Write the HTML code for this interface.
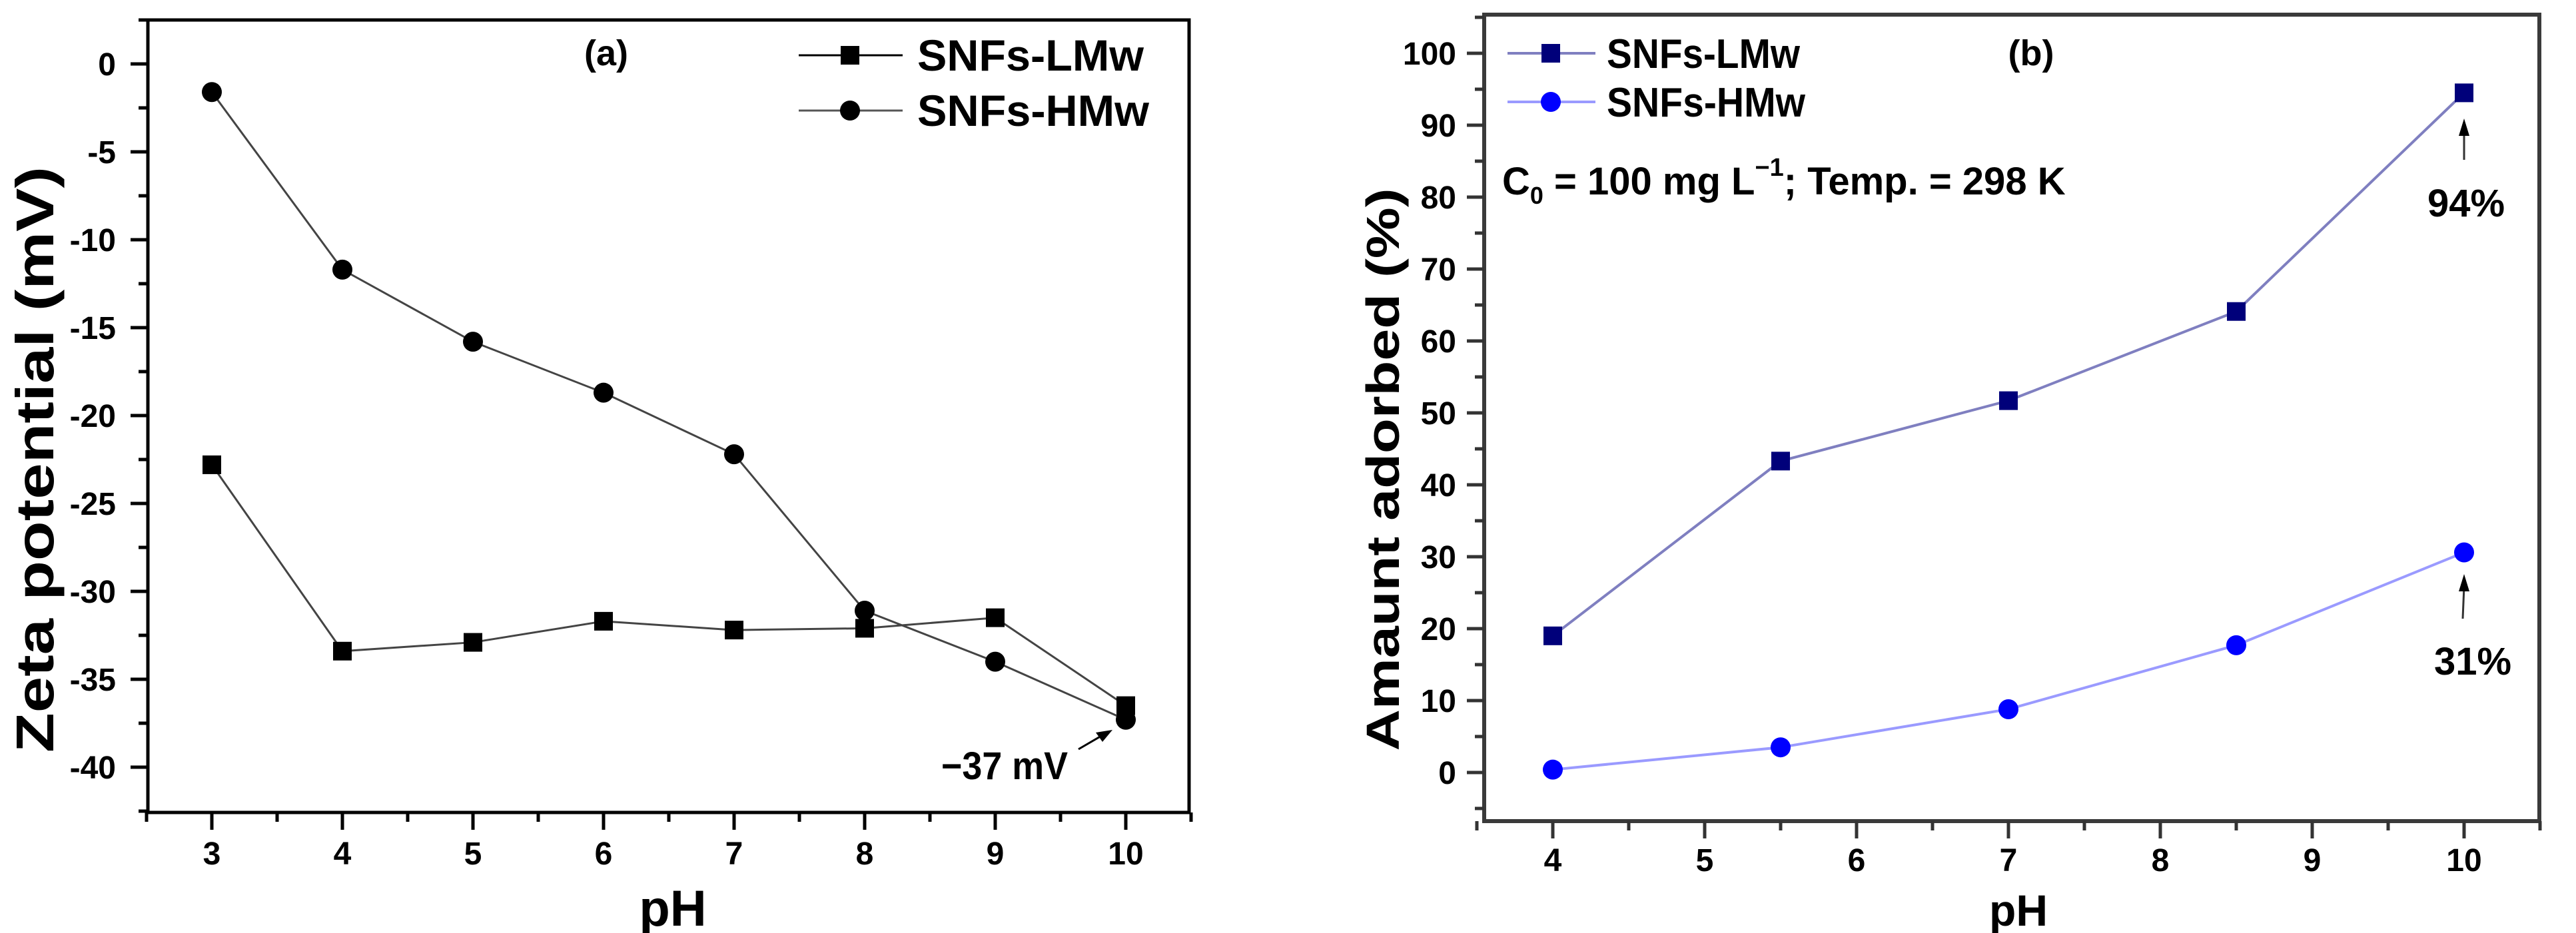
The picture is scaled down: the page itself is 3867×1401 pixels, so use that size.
<!DOCTYPE html>
<html><head><meta charset="utf-8"><style>
html,body{margin:0;padding:0;background:#fff;}
svg{display:block;font-family:"Liberation Sans",Arial,sans-serif;font-weight:bold;}
</style></head><body>
<svg id="fig" width="3867" height="1401" viewBox="0 0 3867 1401">
<g id="pa"></g>
<g id="pb"></g>
</svg>
<script>
// Panel (a) data
const phA = [3, 4, 5, 6, 7, 8, 9, 10];
const zetaLMw = [-22.8, -33.4, -32.9, -31.7, -32.2, -32.1, -31.5, -36.5];
const zetaHMw = [-1.6, -11.7, -15.8, -18.7, -22.2, -31.1, -34.0, -37.3];
const xTicksA = [3, 4, 5, 6, 7, 8, 9, 10];
const yTicksA = [0, -5, -10, -15, -20, -25, -30, -35, -40];
// Panel (b) data
const phB = [4, 5.5, 7, 8.5, 10];
const adsLMw = [19.0, 43.3, 51.7, 64.1, 94.5];
const adsHMw = [0.4, 3.5, 8.8, 17.7, 30.6];
const xTicksB = [4, 5, 6, 7, 8, 9, 10];
const yTicksB = [0, 10, 20, 30, 40, 50, 60, 70, 80, 90, 100];

const NS = "http://www.w3.org/2000/svg";
function mk(parent, tag, attrs, text){
  const e = document.createElementNS(NS, tag);
  for (const k in attrs) e.setAttribute(k, attrs[k]);
  if (text !== undefined) e.textContent = text;
  parent.appendChild(e);
  return e;
}
function scale(d0, d1, r0, r1){ return v => r0 + (v - d0) * (r1 - r0) / (d1 - d0); }

// ---------- Panel A ----------
const ga = document.getElementById('pa');
const xA = scale(3, 10, 318, 1690);
const yA = scale(0, -40, 96, 1152);
const A = {l:222, r:1785, t:30, b:1220};
let e;
e = mk(ga, 'rect', {x:A.l, y:A.t, width:A.r-A.l, height:A.b-A.t, fill:'none', stroke:'#000', 'stroke-width':5});


for (let v = 2.5; v <= 10.5; v += 0.5) {
  const x = xA(v), major = Number.isInteger(v);
  e = mk(ga, 'line', {x1:x, x2:x, y1:A.b, y2:A.b + (major ? 26 : 14), stroke:'#000', 'stroke-width':5});
  
  
}
xTicksA.forEach(v => {
  e = mk(ga, 'text', {x:xA(v), y:1298, 'font-size':48, 'text-anchor':'middle'}, String(v));
  
  
});
for (let v = 2.5; v >= -42.5; v -= 2.5) {
  const y = yA(v), major = (v % 5 === 0);
  e = mk(ga, 'line', {x1:A.l - (major ? 26 : 14), x2:A.l, y1:y, y2:y, stroke:'#000', 'stroke-width':5});
  
  
}
yTicksA.forEach(v => {
  e = mk(ga, 'text', {x:174, y:yA(v) + 17, 'font-size':48, 'text-anchor':'end'}, String(v));
  
  
});
e = mk(ga, 'text', {x:1010, y:1390, 'font-size':76, 'text-anchor':'middle'}, 'pH');


e = mk(ga, 'text', {x:0, y:0, 'font-size':80, 'text-anchor':'middle', textLength:880, lengthAdjust:'spacingAndGlyphs', transform:'translate(80,690) rotate(-90)'}, 'Zeta potential (mV)');


e = mk(ga, 'text', {x:910, y:98, 'font-size':54, 'text-anchor':'middle'}, '(a)');



function seriesA(vals, marker, name){
  const g = mk(ga, 'g', {});
  
  
  const pts = phA.map((p, i) => xA(p) + ',' + yA(vals[i])).join(' ');
  e = mk(g, 'polyline', {points:pts, fill:'none', stroke:'#444', 'stroke-width':3});
  
  
  phA.forEach((p, i) => {
    if (marker === 'sq') e = mk(g, 'rect', {x:xA(p) - 14, y:yA(vals[i]) - 14, width:28, height:28, fill:'#000'});
    else e = mk(g, 'circle', {cx:xA(p), cy:yA(vals[i]), r:15, fill:'#000'});
    
    
  });
}
seriesA(zetaLMw, 'sq', 'series-lmw-a');
seriesA(zetaHMw, 'ci', 'series-hmw-a');

// legend A
e = mk(ga, 'line', {x1:1199, x2:1355, y1:83, y2:83, stroke:'#000', 'stroke-width':3});


e = mk(ga, 'rect', {x:1262, y:69, width:28, height:28, fill:'#000'});


e = mk(ga, 'text', {x:1377, y:106, 'font-size':66, textLength:340, lengthAdjust:'spacingAndGlyphs'}, 'SNFs-LMw');


e = mk(ga, 'line', {x1:1199, x2:1355, y1:166, y2:166, stroke:'#555', 'stroke-width':3});


e = mk(ga, 'circle', {cx:1276, cy:166, r:15, fill:'#000'});


e = mk(ga, 'text', {x:1377, y:189, 'font-size':66, textLength:348, lengthAdjust:'spacingAndGlyphs'}, 'SNFs-HMw');


// annotation
e = mk(ga, 'text', {x:1413, y:1170, 'font-size':58, textLength:190, lengthAdjust:'spacingAndGlyphs'}, '\u221237 mV');


e = mk(ga, 'line', {x1:1619, y1:1125, x2:1655, y2:1104, stroke:'#000', 'stroke-width':3});


e = mk(ga, 'polygon', {points:'1670,1096 1645,1100 1655,1114', fill:'#000'});



// ---------- Panel B ----------
const gb = document.getElementById('pb');
const xB = scale(4, 10, 2331, 3699);
const yB = scale(0, 100, 1160, 80);
const B = {l:2228, r:3812, t:22, b:1233};
e = mk(gb, 'rect', {x:B.l, y:B.t, width:B.r-B.l, height:B.b-B.t, fill:'none', stroke:'#3a3a3a', 'stroke-width':6});


for (let v = 3.5; v <= 10.5; v += 0.5) {
  const x = xB(v), major = Number.isInteger(v);
  e = mk(gb, 'line', {x1:x, x2:x, y1:B.b, y2:B.b + (major ? 26 : 14), stroke:'#333', 'stroke-width':5});
  
  
}
xTicksB.forEach(v => {
  e = mk(gb, 'text', {x:xB(v), y:1308, 'font-size':48, 'text-anchor':'middle'}, String(v));
  
  
});
for (let v = -5; v <= 105; v += 5) {
  const y = yB(v), major = (v % 10 === 0);
  e = mk(gb, 'line', {x1:B.l - (major ? 26 : 14), x2:B.l, y1:y, y2:y, stroke:'#333', 'stroke-width':5});
  
  
}
yTicksB.forEach(v => {
  e = mk(gb, 'text', {x:2186, y:yB(v) + 17, 'font-size':48, 'text-anchor':'end'}, String(v));
  
  
});
e = mk(gb, 'text', {x:3030, y:1390, 'font-size':66, 'text-anchor':'middle'}, 'pH');


e = mk(gb, 'text', {x:0, y:0, 'font-size':70, 'text-anchor':'middle', textLength:845, lengthAdjust:'spacingAndGlyphs', transform:'translate(2100,705) rotate(-90)'}, 'Amaunt adorbed (%)');


e = mk(gb, 'text', {x:3049, y:98, 'font-size':54, 'text-anchor':'middle'}, '(b)');



function seriesB(vals, marker, lineCol, mCol, name){
  const g = mk(gb, 'g', {});
  
  
  const pts = phB.map((p, i) => xB(p) + ',' + yB(vals[i])).join(' ');
  e = mk(g, 'polyline', {points:pts, fill:'none', stroke:lineCol, 'stroke-width':4});
  
  
  phB.forEach((p, i) => {
    if (marker === 'sq') e = mk(g, 'rect', {x:xB(p) - 14, y:yB(vals[i]) - 14, width:28, height:28, fill:mCol});
    else e = mk(g, 'circle', {cx:xB(p), cy:yB(vals[i]), r:15, fill:mCol});
    
    
  });
}
seriesB(adsLMw, 'sq', '#7f7fc0', '#00007a', 'series-lmw-b');
seriesB(adsHMw, 'ci', '#9a9aff', '#0000ff', 'series-hmw-b');

// legend B
e = mk(gb, 'line', {x1:2263, x2:2395, y1:80, y2:80, stroke:'#7f7fc0', 'stroke-width':4});


e = mk(gb, 'rect', {x:2314, y:66, width:28, height:28, fill:'#00007a'});


e = mk(gb, 'text', {x:2412, y:102, 'font-size':62, textLength:290, lengthAdjust:'spacingAndGlyphs'}, 'SNFs-LMw');


e = mk(gb, 'line', {x1:2263, x2:2395, y1:153, y2:153, stroke:'#9a9aff', 'stroke-width':4});


e = mk(gb, 'circle', {cx:2328, cy:153, r:15, fill:'#0000ff'});


e = mk(gb, 'text', {x:2412, y:175, 'font-size':62, textLength:298, lengthAdjust:'spacingAndGlyphs'}, 'SNFs-HMw');


// condition text
e = mk(gb, 'text', {x:2255, y:292, 'font-size':58});


e.innerHTML = 'C<tspan font-size="36" dy="14">0</tspan><tspan dy="-14"> = 100 mg L</tspan><tspan font-size="38" dy="-28">\u22121</tspan><tspan dy="28">; Temp. = 298 K</tspan>';
// 94% / 31% annotations
e = mk(gb, 'line', {x1:3699, y1:240, x2:3699, y2:200, stroke:'#333', 'stroke-width':3});


e = mk(gb, 'polygon', {points:'3699,178 3691,204 3707,204', fill:'#000'});


e = mk(gb, 'text', {x:3702, y:325, 'font-size':58, 'text-anchor':'middle'}, '94%');


e = mk(gb, 'line', {x1:3697, y1:929, x2:3699, y2:880, stroke:'#333', 'stroke-width':3});


e = mk(gb, 'polygon', {points:'3699,862 3691,888 3707,888', fill:'#000'});


e = mk(gb, 'text', {x:3712, y:1013, 'font-size':58, 'text-anchor':'middle'}, '31%');


</script>
</body></html>
